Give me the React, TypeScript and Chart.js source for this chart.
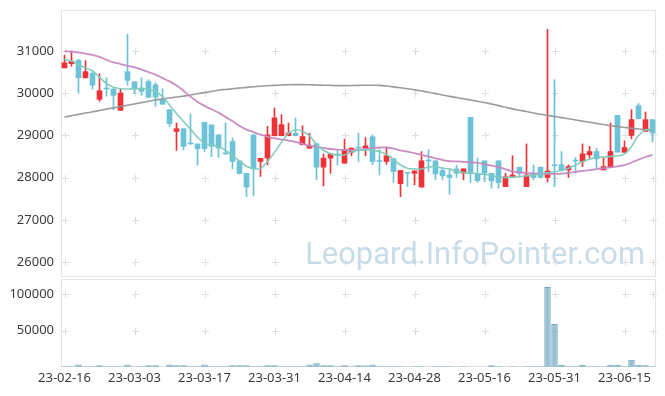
import React, { useEffect, useRef } from 'react';
import { Chart, registerables } from 'chart.js';

Chart.register(...registerables);

const dates = [
  '23-02-16', '23-02-17', '23-02-20', '23-02-21', '23-02-22', '23-02-23', '23-02-24', '23-02-27', '23-02-28', '23-03-02',
  '23-03-03', '23-03-06', '23-03-07', '23-03-08', '23-03-09', '23-03-10', '23-03-13', '23-03-14', '23-03-15', '23-03-16',
  '23-03-17', '23-03-20', '23-03-21', '23-03-22', '23-03-23', '23-03-24', '23-03-27', '23-03-28', '23-03-29', '23-03-30',
  '23-03-31', '23-04-03', '23-04-04', '23-04-05', '23-04-06', '23-04-07', '23-04-10', '23-04-11', '23-04-12', '23-04-13',
  '23-04-14', '23-04-17', '23-04-18', '23-04-19', '23-04-20', '23-04-21', '23-04-24', '23-04-25', '23-04-26', '23-04-27',
  '23-04-28', '23-05-02', '23-05-03', '23-05-04', '23-05-08', '23-05-09', '23-05-10', '23-05-11', '23-05-12', '23-05-15',
  '23-05-16', '23-05-17', '23-05-18', '23-05-19', '23-05-22', '23-05-23', '23-05-24', '23-05-25', '23-05-26', '23-05-30',
  '23-05-31', '23-06-01', '23-06-02', '23-06-05', '23-06-07', '23-06-08', '23-06-09', '23-06-12', '23-06-13', '23-06-14',
  '23-06-15', '23-06-16', '23-06-19', '23-06-20', '23-06-21',
];

const opens = [
  30600, 30700, 30775, 30365, 30470, 29855, 30110, 30100, 29595, 30510,
  30270, 30125, 30280, 30200, 29860, 29610, 29095, 29160, 28810, 28800,
  29310, 29250, 29015, 28580, 28860, 28400, 28105, 29015, 28385, 28465,
  28995, 28995, 28995, 29055, 28780, 28700, 28805, 28250, 28465, 28550,
  28345, 28600, 28710, 28700, 28970, 28390, 28385, 28450, 27860, 28110,
  28105, 27780, 28405, 28400, 28170, 28065, 28210, 28105, 29430, 28105,
  28400, 28105, 28400, 27790, 28005, 28250, 27790, 28105, 28250, 28005,
  28290, 28305, 28185, 28405, 28385, 28540, 28620, 28185, 28240, 29475,
  28600, 29000, 29705, 29095, 29375,
];
const highs = [
  30900, 31000, 30810, 30770, 30545, 30460, 30365, 30110, 30110, 31400,
  30270, 30365, 30320, 30245, 30100, 29610, 29295, 29160, 29510, 28800,
  29310, 29250, 29015, 29295, 28940, 28400, 28105, 29015, 28460, 29215,
  29650, 29490, 29295, 29415, 29230, 29055, 28805, 28565, 28570, 28660,
  28915, 28705, 29055, 28950, 29010, 28670, 28700, 28450, 28170, 28110,
  28165, 28620, 28660, 28400, 28250, 28185, 28290, 28210, 29430, 28465,
  28400, 28105, 28400, 28105, 28520, 28250, 28800, 28305, 28250, 31510,
  30320, 28620, 28305, 28480, 28800, 28740, 28700, 28465, 29295, 29475,
  28875, 29610, 29755, 29555, 29375,
];
const lows = [
  30600, 30640, 30000, 30360, 30100, 29810, 29930, 29610, 29590, 30190,
  29990, 29950, 29890, 29690, 29740, 29210, 28645, 28660, 28790, 28300,
  28620, 28500, 28480, 28550, 28210, 28090, 27550, 27580, 28030, 28305,
  28990, 28990, 28990, 28990, 28780, 28700, 27950, 27805, 28105, 28300,
  28340, 28520, 28385, 28520, 28305, 28065, 28320, 27890, 27550, 27790,
  27830, 27770, 28146, 27950, 27950, 27610, 28005, 27950, 27890, 27890,
  27910, 27750, 27750, 27790, 28000, 28010, 27790, 27950, 27990, 27895,
  27790, 28160, 28005, 28105, 28265, 28465, 28240, 28185, 28240, 28605,
  28600, 28920, 29395, 29095, 28845,
];
const closes = [
  30720, 30760, 30365, 30510, 30190, 30060, 30100, 29950, 30005, 30305,
  30100, 30045, 29905, 29905, 29740, 29280, 29160, 28740, 28800, 28685,
  28690, 28740, 28700, 28565, 28385, 28100, 27780, 28210, 28460, 29015,
  29415, 29255, 29055, 28995, 28975, 28755, 28250, 28465, 28565, 28540,
  28660, 28700, 28700, 28755, 28385, 28385, 28520, 28145, 28170, 28105,
  28160, 28400, 28395, 28090, 28045, 28005, 28105, 28210, 28105, 27930,
  28105, 27925, 27885, 28025, 28065, 28105, 28065, 28005, 28005, 28160,
  28285, 28185, 28265, 28395, 28565, 28620, 28445, 28265, 28620, 28605,
  28715, 29375, 29395, 29375, 29055,
];
const volumes = [
  1200, 1200, 3600, 1200, 1200, 2300, 1200, 1200, 1200, 3600,
  1200, 1200, 2300, 2300, 300, 3600, 2300, 2300, 1200, 1200,
  3600, 1200, 1200, 1200, 2300, 2300, 2300, 1200, 1200, 2300,
  2300, 1200, 1200, 1200, 1200, 3600, 5000, 2300, 2300, 1200,
  2300, 1200, 2300, 2000, 3600, 1200, 1200, 1200, 1200, 300,
  1200, 1200, 300, 1200, 1200, 1200, 300, 1200, 300, 300,
  300, 2300, 1200, 300, 1200, 300, 1200, 1200, 1200, 110000,
  59000, 3200, 1200, 1200, 3200, 1200, 1200, 1200, 3200, 3200,
  1200, 10000, 3200, 2300, 1200,
];
const ma5 = [
  30800, 30760, 30680, 30600, 30530, 30380, 30230, 30140, 30105, 30100,
  30105, 30105, 30095, 30040, 29920, 29720, 29520, 29330, 29150, 28960,
  28820, 28770, 28740, 28650, 28520, 28400, 28270, 28215, 28220, 28380,
  28600, 28840, 29050, 29135, 29100, 28990, 28790, 28650, 28570, 28535,
  28540, 28610, 28650, 28660, 28650, 28620, 28550, 28440, 28300, 28226,
  28210, 28205, 28255, 28260, 28225, 28210, 28150, 28120, 28108, 28095,
  28075, 28060, 28010, 28005, 28015, 28027, 28045, 28060, 28090, 28115,
  28140, 28170, 28225, 28300, 28380, 28440, 28478, 28490, 28505, 28520,
  28560, 28740, 29000, 29120, 29160,
];
const ma20 = [
  30995, 30985, 30965, 30940, 30905, 30860, 30790, 30730, 30690, 30650,
  30610, 30560, 30500, 30440, 30360, 30280, 30180, 30060, 29920, 29800,
  29700, 29620, 29540, 29440, 29340, 29230, 29140, 29080, 29020, 28970,
  28930, 28905, 28880, 28850, 28800, 28760, 28730, 28705, 28680, 28665,
  28655, 28650, 28660, 28680, 28700, 28715, 28715, 28690, 28650, 28615,
  28585, 28540, 28500, 28460, 28420, 28390, 28385, 28375, 28365, 28350,
  28320, 28285, 28250, 28200, 28150, 28125, 28110, 28100, 28095, 28092,
  28092, 28098, 28115, 28140, 28160, 28180, 28205, 28225, 28245, 28270,
  28300, 28360, 28430, 28490, 28540,
];
const ma60 = [
  29437, 29468, 29499, 29530, 29561, 29592, 29623, 29654, 29685, 29716,
  29747, 29778, 29809, 29840, 29863, 29886, 29909, 29932, 29960, 29988,
  30016, 30044, 30072, 30090, 30106, 30122, 30138, 30154, 30166, 30176,
  30186, 30194, 30200, 30204, 30204, 30200, 30195, 30190, 30185, 30180,
  30180, 30182, 30186, 30188, 30188, 30185, 30170, 30150, 30128, 30105,
  30080, 30052, 30022, 29990, 29958, 29926, 29897, 29868, 29840, 29810,
  29780, 29744, 29706, 29668, 29630, 29598, 29566, 29534, 29502, 29476,
  29450, 29423, 29396, 29368, 29340, 29313, 29286, 29259, 29232, 29210,
  29190, 29170, 29152, 29138, 29125,
];

const priceTicks = [26000, 27000, 28000, 29000, 30000, 31000];
const volumeTicks = [50000, 100000];
const xTickIndices = [0, 10, 20, 30, 40, 50, 60, 70, 80];
const watermark = 'Leopard.InfoPointer.com';

const UP = '#ee3238';
const DOWN = '#6cc3d7';
const FONT = "'Noto Sans', sans-serif";

const gridPlugin = {
  id: 'crossGrid',
  beforeDatasetsDraw(chart: any, _args: any, opts: any) {
    const { ctx, chartArea: a, scales } = chart;
    const xs = xTickIndices.map((i) => Math.round(scales.x.getPixelForValue(i)));
    xs.push(Math.round(a.right) - 3);
    const ys = (opts.ticks as number[]).map((v) => Math.round(scales.y.getPixelForValue(v)));
    ctx.save();
    ctx.strokeStyle = '#dedede';
    ctx.lineWidth = 1;
    ctx.beginPath();
    for (const x of xs) {
      for (const y of ys) {
        ctx.moveTo(x - 3, y + 0.5);
        ctx.lineTo(x + 4, y + 0.5);
        ctx.moveTo(x + 0.5, y - 3);
        ctx.lineTo(x + 0.5, y + 4);
      }
    }
    ctx.stroke();
    ctx.strokeStyle = '#e4e4e4';
    const l = Math.round(a.left) + 0.5;
    const t = Math.round(a.top) + 0.5;
    const r = Math.round(a.right) - 0.5;
    const b = Math.round(a.bottom) - 0.5;
    ctx.strokeRect(l, t, r - l, b - t);
    if (opts.watermark) {
      let size = 32;
      ctx.font = `${size}px Roboto`;
      const w = ctx.measureText(watermark).width;
      size = (size * 340) / w;
      ctx.font = `${size}px Roboto`;
      ctx.fillStyle = 'rgba(190, 214, 228, 0.85)';
      ctx.textAlign = 'right';
      ctx.textBaseline = 'alphabetic';
      ctx.fillText(watermark, a.right - 11, a.bottom - 13);
    }
    ctx.restore();
  },
};

const candleColors = opens.map((o, i) => (closes[i] >= o ? UP : DOWN));

export default function App() {
  const priceRef = useRef<HTMLCanvasElement>(null);
  const volRef = useRef<HTMLCanvasElement>(null);

  useEffect(() => {
    Chart.defaults.font.family = FONT;
    Chart.defaults.font.size = 13;
    Chart.defaults.color = '#3a3a3a';

    const yAxisFit = (s: any) => {
      s.width = 61;
      s.paddingTop = 0;
      s.paddingBottom = 0;
    };

    const price = new Chart(priceRef.current as HTMLCanvasElement, {
      type: 'bar',
      data: {
        labels: dates,
        datasets: [
          {
            type: 'line',
            data: ma5,
            borderColor: 'rgba(128, 202, 188, 0.95)',
            borderWidth: 1.6,
            pointRadius: 0,
            tension: 0.4,
            order: 0,
          } as any,
          {
            type: 'line',
            data: ma20,
            borderColor: 'rgba(200, 134, 192, 0.95)',
            borderWidth: 1.8,
            pointRadius: 0,
            tension: 0.4,
            order: 0,
          } as any,
          {
            type: 'line',
            data: ma60,
            borderColor: 'rgba(150, 150, 150, 0.95)',
            borderWidth: 1.6,
            pointRadius: 0,
            tension: 0.4,
            order: 0,
          } as any,
          {
            type: 'bar',
            data: opens.map((o, i) => [o, closes[i]]),
            backgroundColor: candleColors,
            borderWidth: 0,
            barThickness: 5,
            minBarLength: 1,
            grouped: false,
            order: 1,
          } as any,
          {
            type: 'bar',
            data: lows.map((l, i) => [l, highs[i]]),
            backgroundColor: candleColors,
            borderWidth: 0,
            barThickness: 1,
            grouped: false,
            order: 2,
          } as any,
        ],
      },
      options: {
        animation: false,
        responsive: false,
        maintainAspectRatio: false,
        layout: { padding: { top: 10, right: 9, bottom: 1, left: 0 } },
        plugins: {
          legend: { display: false },
          tooltip: { enabled: false },
          crossGrid: { ticks: priceTicks, watermark: true },
        } as any,
        scales: {
          x: { type: 'category', display: false, offset: true },
          y: {
            min: 25650,
            max: 31970,
            afterFit: yAxisFit,
            afterBuildTicks: (s: any) => {
              s.ticks = priceTicks.map((v) => ({ value: v }));
            },
            grid: { display: false, drawTicks: false },
            border: { display: false },
            ticks: { padding: 7, callback: (v: any) => String(v) },
          },
        },
      },
      plugins: [gridPlugin],
    });

    const volume = new Chart(volRef.current as HTMLCanvasElement, {
      type: 'bar',
      data: {
        labels: dates,
        datasets: [
          {
            data: volumes,
            backgroundColor: 'rgba(140, 186, 206, 0.9)',
            borderColor: 'rgba(112, 163, 190, 1)',
            borderWidth: 1,
            barPercentage: 0.92,
            categoryPercentage: 1,
          },
        ],
      },
      options: {
        animation: false,
        responsive: false,
        maintainAspectRatio: false,
        layout: { padding: { top: 1, right: 9, bottom: 0, left: 0 } },
        plugins: {
          legend: { display: false },
          tooltip: { enabled: false },
          crossGrid: { ticks: volumeTicks, watermark: false },
        } as any,
        scales: {
          x: {
            type: 'category',
            offset: true,
            afterFit: (s: any) => {
              s.height = 29;
              s.paddingLeft = 0;
              s.paddingRight = 0;
            },
            afterBuildTicks: (s: any) => {
              s.ticks = xTickIndices.map((v) => ({ value: v }));
            },
            grid: { display: false, drawTicks: false },
            border: { display: false },
            ticks: { autoSkip: false, maxRotation: 0, padding: 3 },
          },
          y: {
            min: 0,
            max: 121000,
            afterFit: yAxisFit,
            afterBuildTicks: (s: any) => {
              s.ticks = volumeTicks.map((v) => ({ value: v }));
            },
            grid: { display: false, drawTicks: false },
            border: { display: false },
            ticks: { padding: 7, callback: (v: any) => String(v) },
          },
        },
      },
      plugins: [gridPlugin],
    });

    return () => {
      price.destroy();
      volume.destroy();
    };
  }, []);

  return (
    <div style={{ position: 'absolute', left: 0, top: 0, width: 665, height: 396, background: '#fff' }}>
      <canvas ref={priceRef} width={665} height={278} style={{ position: 'absolute', left: 0, top: 0, display: 'block' }} />
      <canvas ref={volRef} width={665} height={118} style={{ position: 'absolute', left: 0, top: 278, display: 'block' }} />
    </div>
  );
}
